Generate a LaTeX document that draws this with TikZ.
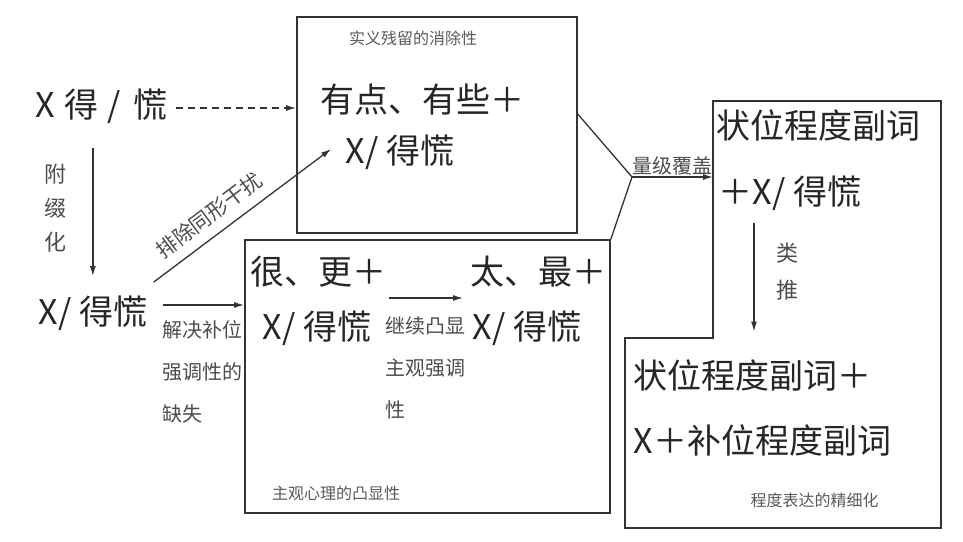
\documentclass[tikz,border=0pt]{standalone}
\usepackage{fontspec}
\setmainfont{Noto Sans CJK SC}
\usetikzlibrary{arrows.meta,calc}

\begin{document}
\begin{tikzpicture}[x=1pt,y=-1pt,>={Latex[length=10pt,width=6pt]},line width=1.3pt,draw=black!80]
    \tikzstyle{big}=[font=\fontsize{34}{36}\selectfont,text=black!85,inner sep=0pt,anchor=west]
    \tikzstyle{note}=[font=\fontsize{20}{42}\selectfont,text=black!70,inner sep=0pt,align=left,anchor=north west]
    \tikzstyle{stack}=[font=\fontsize{22}{34}\selectfont,text=black!70,inner sep=0pt,align=center]
    \tikzstyle{tag}=[font=\fontsize{16}{18}\selectfont,text=black!65,inner sep=0pt]
    \tikzstyle{stage}=[draw,line width=1.7pt,inner sep=0pt]
    \useasboundingbox (0,0) rectangle (963,541);

    % Draw the two boxes of the first stages
    \node[stage,minimum width=280pt,minimum height=216pt] (top) at (437,125) {};
    \node[stage,minimum width=365pt,minimum height=273pt] (low) at (427.5,376.5) {};

    % Draw the stepped box on the right
    \coordinate (r1) at (713,101);
    \coordinate (r2) at (941,101);
    \coordinate (r3) at (941,528);
    \coordinate (r4) at (625,528);
    \coordinate (r5) at (625,338);
    \coordinate (r6) at (713,338);
    \draw[line width=1.7pt] (r1) -- (r2) -- (r3) -- (r4) -- (r5) -- (r6) -- cycle;

    % The forms
    \node[big] (base) at (35,106) {X\hspace{9pt}得\hspace{9pt}/\hspace{13pt}慌};
    \node[big] (affix) at (38,313) {X/ 得慌};
    \node[big] (yd1) at (320,100) {有点、有些＋};
    \node[big] (yd2) at (345,152) {X/ 得慌};
    \node[big] (hg1) at (250,272) {很、更＋};
    \node[big] (hg2) at (262,328) {X/ 得慌};
    \node[big] (tz1) at (470,272) {太、最＋};
    \node[big] (tz2) at (472,328) {X/ 得慌};
    \node[big] (zw1) at (716,125) {状位程度副词};
    \node[big] (zw2) at (718,193) {＋X/ 得慌};
    \node[big] (bw1) at (633,375) {状位程度副词＋};
    \node[big] (bw2) at (633,440) {X＋补位程度副词};

    % Titles of the boxes
    \node[tag] (t1) at (413,38) {实义残留的消除性};
    \node[tag] (t2) at (336,493) {主观心理的凸显性};
    \node[tag,anchor=west] (t3) at (750,500) {程度表达的精细化};

    % Connect the forms
    \draw[->,dash pattern=on 7pt off 5pt] ([xshift=8pt,yshift=-2pt]base.east) coordinate (d) -- (d -| top.west);
    \draw[->,shorten <=24pt,shorten >=19pt] (base.south -| affix.north) -- (affix.north);
    \draw[->] ($(affix.north east)+(6,-13)$) -- ($(yd2.west)+(-14,-3)$)
        node[pos=0.38,above=10pt,sloped,inner sep=0pt,text=black!70,font=\fontsize{21}{24}\selectfont] {排除同形干扰};
    \draw[->] ([xshift=15pt,yshift=8pt]affix.east) coordinate (h) -- (h -| low.west);
    \draw[->] ($(hg1.east)+(2,26)$) -- ($(tz1.west)+(-7,26)$);
    \coordinate (fun) at (632,177);
    \draw ($(top.north east)+(0,98)$) -- (fun) -- (low.north east);
    \draw[->] (fun) -- (fun -| r1) node[midway,above=1pt,stack,font=\fontsize{20}{22}\selectfont] {量级覆盖};
    \draw[->] ($(zw2.south west)+(36,12)$) -- ($(bw1.north west)+(121,-27)$);

    % Annotate the steps
    \node[stack] at (55,208) {附\\缀\\化};
    \node[stack,font=\fontsize{22}{37}\selectfont] at (787,272) {类\\推};
    \node[note] at (162,320) {解决补位\\强调性的\\缺失};
    \node[note] at (385,316) {继续凸显\\主观强调\\性};
\end{tikzpicture}
\end{document}
